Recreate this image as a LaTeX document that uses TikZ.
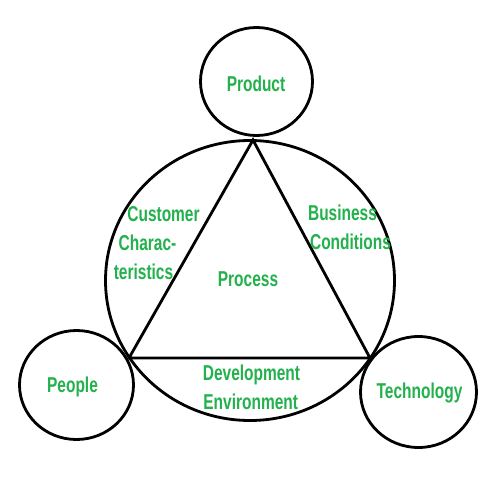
\documentclass[tikz,border=0pt]{standalone}
\usepackage{fontspec}
\usetikzlibrary{shapes.geometric}
\newfontfamily\lblfont{Liberation Sans}[FakeStretch=0.72]
\definecolor{paintgreen}{RGB}{34,177,76}
\begin{document}
\begin{tikzpicture}[x=1pt,y=-1pt,
  ring/.style={draw=black,line width=2.8pt,ellipse,inner sep=0pt},
  lbl/.style={text=paintgreen,font=\lblfont\bfseries\fontsize{21.5}{24}\selectfont,inner sep=0pt,anchor=base},
  edge/.style={draw=black,line width=2.8pt,line join=miter}]
\useasboundingbox[fill=white] (0,0) rectangle (499,503);
% circles
\node[ring,minimum width=289pt,minimum height=280pt] (big) at (250,280.5) {};
\node[ring,minimum width=112pt,minimum height=108pt] (product) at (256.5,81.5) {};
\node[ring,minimum width=114pt,minimum height=109pt] (people) at (76.5,385) {};
\node[ring,minimum width=116pt,minimum height=111pt] (tech) at (418.5,392) {};
% triangle
\coordinate (ta) at (253,140);
\coordinate (tb) at (129,358);
\coordinate (tc) at (370,358);
\draw[edge] (ta) -- (tb) -- (tc) -- cycle;
% labels
\node[lbl] (lproduct) at (256,92) {Product};
\node[lbl] (lpeople) at (72.5,392) {People};
\node[lbl] (ltech) at (419.5,398) {Technology};
\node[lbl] (lprocess) at (248,286) {Process};
\node[lbl] (lc1) at (163.5,221.5) {Customer};
\node[lbl] (lc2) at (147.5,250.5) {Charac-};
\node[lbl] (lc3) at (143.5,279) {teristics};
\node[lbl] (lb1) at (342.5,220) {Business};
\node[lbl] (lb2) at (350.5,249) {Conditions};
\node[lbl] (ld1) at (251.5,380) {Development};
\node[lbl] (ld2) at (250.7,409) {Environment};
\end{tikzpicture}
\end{document}
